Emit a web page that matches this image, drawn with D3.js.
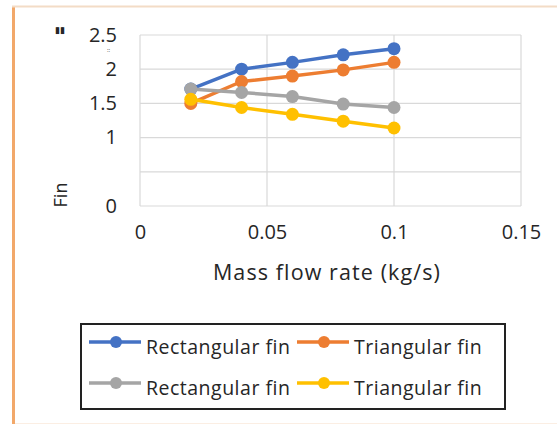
<!DOCTYPE html>
<html>
<head>
<meta charset="utf-8">
<script src="https://cdn.jsdelivr.net/npm/d3@7"></script>
<style>
  body { margin: 0; background: #fff; }
  text { font-family: "Open Sans", Lato, sans-serif; fill: #262626; }
</style>
</head>
<body>
<div id="chart"></div>
<script>
// data
const massFlow = [0.02, 0.04, 0.06, 0.08, 0.1];
const rectFinA = [1.71, 2.0, 2.1, 2.21, 2.3];
const triFinA = [1.5, 1.82, 1.9, 1.99, 2.1];
const rectFinB = [1.71, 1.66, 1.6, 1.49, 1.44];
const triFinB = [1.56, 1.44, 1.34, 1.24, 1.14];

const seriesNames = ["Rectangular fin", "Triangular fin", "Rectangular fin", "Triangular fin"];
const seriesColors = ["#4472c4", "#ed7d31", "#a5a5a5", "#ffc000"];

const xTicks = [0, 0.05, 0.1, 0.15];
const xTickLabels = ["0", "0.05", "0.1", "0.15"];
const yTicks = [0, 0.5, 1, 1.5, 2, 2.5];
const yTickLabels = ["0", "", "1", "1.5", "2", "2.5"];

const width = 557, height = 424;
const plot = {left: 140, right: 521, top: 35, bottom: 206};
const font = "'Open Sans', sans-serif";

const svg = d3.select("#chart").append("svg")
  .attr("width", width)
  .attr("height", height);

// outer frame bits (chart is cropped)
svg.append("line").attr("x1", 13.5).attr("x2", 13.5).attr("y1", 6).attr("y2", height)
  .attr("stroke", "#f2a86a").attr("stroke-width", 3);
svg.append("line").attr("x1", 12).attr("x2", width).attr("y1", 6.5).attr("y2", 6.5)
  .attr("stroke", "#f3dcc6").attr("stroke-width", 2);
svg.append("line").attr("x1", 15).attr("x2", width).attr("y1", 423.5).attr("y2", 423.5)
  .attr("stroke", "#fbeee3").attr("stroke-width", 1);

const x = d3.scaleLinear().domain([0, 0.15]).range([plot.left, plot.right]);
const y = d3.scaleLinear().domain([0, 2.5]).range([plot.bottom, plot.top]);

// gridlines
const grid = svg.append("g").attr("stroke", "#d9d9d9").attr("stroke-width", 1.2);
grid.selectAll(".hg").data(yTicks).enter().append("line")
  .attr("x1", plot.left).attr("x2", plot.right)
  .attr("y1", d => y(d)).attr("y2", d => y(d));
grid.selectAll(".vg").data(xTicks).enter().append("line")
  .attr("y1", plot.top).attr("y2", plot.bottom)
  .attr("x1", d => x(d)).attr("x2", d => x(d));

// axes (labels only)
const yAxis = svg.append("g")
  .attr("transform", "translate(" + (plot.left - 20) + ",0)")
  .call(d3.axisLeft(y).tickValues(yTicks).tickSize(0)
    .tickFormat((d, i) => yTickLabels[i]));
yAxis.select(".domain").remove();
yAxis.selectAll("text").attr("font-size", 20).attr("dy", "0.3em")
  .style("font-family", font).attr("fill", "#262626");

const xAxis = svg.append("g")
  .attr("transform", "translate(0," + (plot.bottom + 16) + ")")
  .call(d3.axisBottom(x).tickValues(xTicks).tickSize(0)
    .tickFormat((d, i) => xTickLabels[i]));
xAxis.select(".domain").remove();
xAxis.selectAll("text").attr("font-size", 20)
  .style("font-family", font).attr("fill", "#262626");

// axis titles
svg.append("text")
  .attr("x", 327)
  .attr("y", 280)
  .attr("text-anchor", "middle")
  .attr("font-size", 21.5)
  .attr("letter-spacing", 1.1)
  .text("Mass flow rate (kg/s)");

svg.append("text")
  .attr("transform", "translate(67,195) rotate(-90)")
  .attr("text-anchor", "middle")
  .attr("font-size", 18)
  .text("Fin");

// leftover glyphs of the clipped title
svg.append("text")
  .attr("x", 55).attr("y", 33)
  .attr("font-size", 9)
  .style("font-family", "'DejaVu Sans', sans-serif")
  .attr("fill", "#222")
  .text("▮▮");
svg.append("text")
  .attr("x", 107).attr("y", 52)
  .attr("font-size", 6).attr("fill", "#888")
  .text("::");

// series
const series = [rectFinA, triFinA, rectFinB, triFinB];
const line = d3.line().x((d, i) => x(massFlow[i])).y(d => y(d));

series.forEach((vals, s) => {
  const g = svg.append("g");
  g.append("path")
    .datum(vals)
    .attr("fill", "none")
    .attr("stroke", seriesColors[s])
    .attr("stroke-width", 3.5)
    .attr("stroke-linejoin", "round")
    .attr("d", line);
  g.selectAll("circle").data(vals).enter().append("circle")
    .attr("cx", (d, i) => x(massFlow[i]))
    .attr("cy", d => y(d))
    .attr("r", 6.5)
    .attr("fill", seriesColors[s]);
});

// legend
const legend = svg.append("g");
legend.append("rect")
  .attr("x", 81).attr("y", 324).attr("width", 424).attr("height", 85)
  .attr("fill", "none").attr("stroke", "#222").attr("stroke-width", 2);

const legendCols = [89, 297];
const legendRows = [342, 383];
seriesNames.forEach((name, i) => {
  const lx = legendCols[i % 2], ly = legendRows[Math.floor(i / 2)];
  const item = legend.append("g");
  item.append("line")
    .attr("x1", lx).attr("x2", lx + 52).attr("y1", ly).attr("y2", ly)
    .attr("stroke", seriesColors[i]).attr("stroke-width", 3.5);
  item.append("circle")
    .attr("cx", lx + 27).attr("cy", ly).attr("r", 6)
    .attr("fill", seriesColors[i]);
  item.append("text")
    .attr("x", lx + 57).attr("y", ly + 12)
    .attr("font-size", 19.5)
    .attr("letter-spacing", 0.5)
    .text(name);
});
</script>
</body>
</html>
